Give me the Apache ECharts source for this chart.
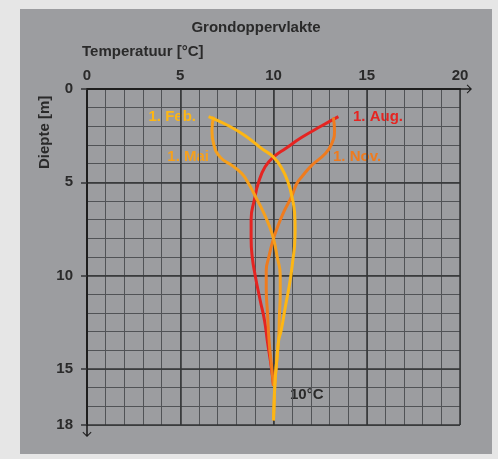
<!DOCTYPE html>
<html>
<head>
<meta charset="utf-8">
<script src="https://cdn.jsdelivr.net/npm/echarts@6/dist/echarts.min.js"></script>
<style>
  html, body { margin: 0; padding: 0; background: #e6e6e6; }
  #wrap { position: relative; width: 498px; height: 459px; }
  #chart { position: absolute; left: 20px; top: 9px; width: 472px; height: 445px; background: #9c9da0; }
</style>
</head>
<body>
<div id="wrap"><div id="chart"></div></div>
<script>
// temperatuur [°C] tegen diepte [m]
var feb = [[6.52, 1.48], [7.59, 1.97], [8.48, 2.5], [9.38, 3.2], [10.0, 3.65], [10.45, 4.26], [10.8, 5.06],
  [10.98, 5.74], [11.13, 6.61], [11.16, 7.49], [11.13, 8.37], [11.05, 9.07], [10.89, 10.27], [10.63, 11.7],
  [10.41, 12.95], [10.27, 13.5], [10.18, 14.5], [10.09, 15.55], [10.04, 16.6], [10.0, 17.75]];
var mai = [[6.79, 1.48], [6.7, 2.23], [6.79, 2.94], [7.14, 3.65], [7.77, 4.09], [8.3, 4.53], [8.66, 5.06],
  [8.93, 5.56], [9.38, 6.44], [9.77, 7.32], [10.0, 8.02], [10.2, 9.0], [10.36, 9.95], [10.36, 10.98],
  [10.32, 12.05], [10.27, 13.5], [10.18, 14.5], [10.09, 15.55], [10.04, 16.6], [10.0, 17.75]];
var aug = [[13.48, 1.48], [12.59, 1.97], [11.52, 2.59], [10.63, 3.2], [10.0, 3.65], [9.55, 4.17], [9.2, 5.0],
  [8.98, 5.91], [8.8, 6.96], [8.8, 8.02], [8.86, 9.0], [9.02, 10.0], [9.29, 11.34], [9.52, 12.41],
  [9.67, 13.5], [9.875, 14.86], [10.0, 15.9]];
var nov = [[13.21, 1.53], [13.27, 2.23], [13.12, 2.94], [12.77, 3.47], [12.05, 4.09], [11.52, 4.7], [11.25, 5.06],
  [10.98, 5.74], [10.54, 6.61], [10.18, 7.49], [9.95, 8.19], [9.75, 9.0], [9.61, 9.73], [9.61, 10.63],
  [9.68, 12.05], [9.77, 13.57], [9.9, 14.9], [10.0, 15.9]];
var yLabels = [0, 5, 10, 15, 18];

var kleur = {feb: '#fdb614', mai: '#f6a01c', aug: '#e52421', nov: '#ef7b1e'};
var font = '"Liberation Sans", Arial, sans-serif';
var arrow = 'path://M4.5,0 L9,4.6 L8.3,5.3 L5.3,2.3 L5.3,12 L3.7,12 L3.7,2.3 L0.7,5.3 L0,4.6 Z';

var Chart_t = echarts.init(document.getElementById('chart'));

function lijn(name, data, color) {
    return {
        name: name,
        type: 'line',
        data: data,
        smooth: 0.5,
        showSymbol: false,
        z: 5,
        lineStyle: {color: color, width: 3},
        itemStyle: {color: color}
    };
}

var option = {
    animation: false,
    grid: {left: 67, top: 80, width: 373, height: 336},
    xAxis: [
        {
            type: 'value', position: 'top', min: 0, max: 20, interval: 5, z: 3,
            axisLine: {show: true, symbol: ['none', arrow], symbolSize: [9, 12], symbolOffset: [0, 6],
                lineStyle: {color: '#1e1e1e', width: 2}},
            axisTick: {show: false},
            axisLabel: {color: '#2a2a2a', fontSize: 15, fontWeight: 'bold', fontFamily: font, margin: 6},
            splitLine: {show: true, lineStyle: {color: '#333436', width: 1.5}}
        },
        {
            type: 'value', position: 'top', min: 0, max: 20, interval: 1, z: 1,
            axisLine: {show: false}, axisTick: {show: false}, axisLabel: {show: false},
            splitLine: {show: true, lineStyle: {color: '#515356', width: 1}}
        }
    ],
    yAxis: [
        {
            type: 'value', inverse: true, min: 0, max: 18, interval: 5, z: 3,
            axisLine: {show: true, symbol: [arrow, 'none'], symbolSize: [9, 12], symbolOffset: [-6, 0],
                lineStyle: {color: '#1e1e1e', width: 2}},
            axisTick: {show: true, length: 6, lineStyle: {color: '#333436', width: 1.5}},
            axisLabel: {color: '#2a2a2a', fontSize: 15, fontWeight: 'bold', fontFamily: font, margin: 14,
                formatter: function (v) { return yLabels.indexOf(v) >= 0 ? v : ''; }},
            splitLine: {show: true, lineStyle: {color: '#333436', width: 1.5}}
        },
        {
            type: 'value', inverse: true, min: 0, max: 18, interval: 1, z: 1,
            axisLine: {show: false}, axisTick: {show: false}, axisLabel: {show: false},
            splitLine: {show: true, lineStyle: {color: '#515356', width: 1}}
        }
    ],
    graphic: [
        {type: 'text', left: 'center', top: 11, style: {text: 'Grondoppervlakte', fill: '#2a2a2a',
            font: 'bold 15px ' + font}},
        {type: 'text', left: 62, top: 35, style: {text: 'Temperatuur [°C]', fill: '#2a2a2a',
            font: 'bold 15px ' + font}},
        {type: 'text', x: 17, y: 160, rotation: Math.PI / 2, style: {text: 'Diepte [m]', fill: '#2a2a2a',
            font: 'bold 15px ' + font}},
        {type: 'text', x: 176, y: 108, style: {text: '1. Feb.', fill: kleur.feb, align: 'right',
            verticalAlign: 'middle', font: 'bold 15px ' + font}},
        {type: 'text', x: 189, y: 148, style: {text: '1. Mai', fill: kleur.mai, align: 'right',
            verticalAlign: 'middle', font: 'bold 15px ' + font}},
        {type: 'text', x: 333, y: 108, style: {text: '1. Aug.', fill: kleur.aug,
            verticalAlign: 'middle', font: 'bold 15px ' + font}},
        {type: 'text', x: 313, y: 148, style: {text: '1. Nov.', fill: kleur.nov,
            verticalAlign: 'middle', font: 'bold 15px ' + font}},
        {type: 'text', x: 270, y: 386, style: {text: '10°C', fill: '#2a2a2a',
            verticalAlign: 'middle', font: 'bold 15px ' + font}}
    ],
    series: [
        lijn('1. Aug.', aug, kleur.aug),
        lijn('1. Nov.', nov, kleur.nov),
        lijn('1. Mai', mai, kleur.mai),
        lijn('1. Feb.', feb, kleur.feb)
    ]
};

Chart_t.setOption(option);
</script>
</body>
</html>
